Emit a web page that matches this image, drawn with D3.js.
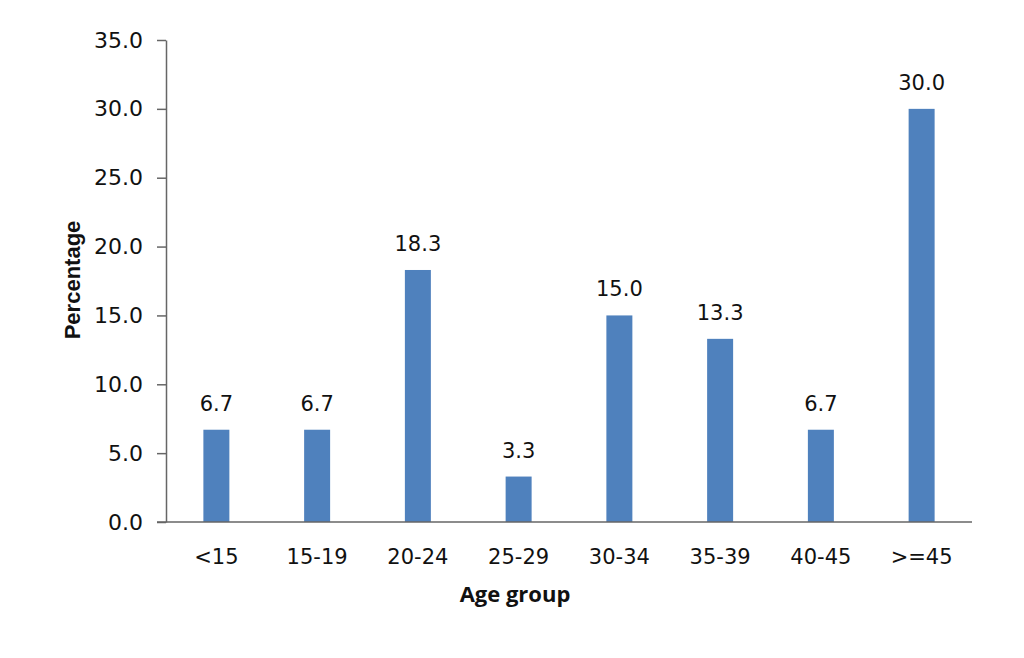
<!DOCTYPE html>
<html><head><meta charset="utf-8">
<script src="https://cdn.jsdelivr.net/npm/d3@7"></script>
<style>body{margin:0;background:#fff}</style>
</head><body><svg id="c" width="1024" height="658"></svg>
<script>
const categories = ["<15","15-19","20-24","25-29","30-34","35-39","40-45",">=45"];
const values = [6.7,6.7,18.3,3.3,15.0,13.3,6.7,30.0];
const yTicks = [0,5,10,15,20,25,30,35];

const svg = d3.select("#c");
const m = {left:166, right:972, top:40, bottom:522};
const x = d3.scaleBand().domain(categories).range([m.left,m.right]).paddingInner(0.742).paddingOuter(0.371);
const y = d3.scaleLinear().domain([0,35]).range([m.bottom,m.top]);

svg.selectAll("rect.bar").data(values).join("rect").attr("class","bar")
  .attr("x",(d,i)=>x(categories[i])).attr("width",x.bandwidth())
  .attr("y",d=>y(d)).attr("height",d=>y(0)-y(d)).attr("fill","#4F81BD");

const ya = svg.append("g").attr("transform",`translate(${m.left},0)`)
  .call(d3.axisLeft(y).tickValues(yTicks).tickFormat(d3.format(".1f")).tickSize(9).tickSizeOuter(0).tickPadding(14));
ya.select(".domain").attr("stroke","#666").attr("stroke-width",1.5);
ya.selectAll(".tick line").attr("stroke","#666").attr("stroke-width",1.5);
ya.selectAll(".tick text").style("font-size","22px").style("font-family","'DejaVu Sans'").attr("fill","#111");

const xa = svg.append("g").attr("transform",`translate(0,${m.bottom})`)
  .call(d3.axisBottom(x).tickSize(0).tickPadding(27));
xa.select(".domain").attr("stroke","#666").attr("stroke-width",1.5).attr("d",`M${m.left-9},0H${m.right}`);
xa.selectAll(".tick text").style("font-size","21px").style("font-family","'DejaVu Sans'").attr("fill","#111");

svg.selectAll("text.lbl").data(values).join("text").attr("class","lbl")
  .attr("x",(d,i)=>x(categories[i])+x.bandwidth()/2).attr("y",d=>y(d)-19)
  .attr("text-anchor","middle").style("font-size","21px").style("font-family","'DejaVu Sans'")
  .attr("fill","#111").text(d=>d3.format(".1f")(d));

svg.append("text").attr("x",515).attr("y",602).attr("text-anchor","middle")
  .style("font-size","22px").style("font-weight","bold").style("font-family","'Open Sans'")
  .attr("fill","#111").text("Age group");
svg.append("text").attr("transform","translate(80,280) rotate(-90)").attr("text-anchor","middle")
  .style("font-size","22px").style("font-weight","bold").style("font-family","'Liberation Sans'")
  .attr("fill","#111").text("Percentage");
</script></body></html>
